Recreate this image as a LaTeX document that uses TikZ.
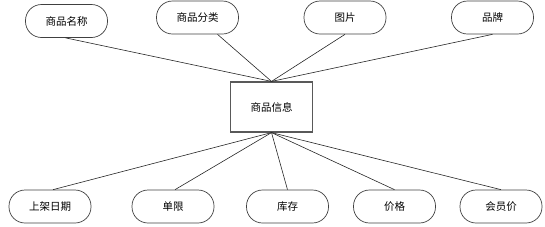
\documentclass[tikz,border=0pt]{standalone}
\usepackage{fontspec}
\newfontfamily\cjk{Noto Sans CJK SC}
\usetikzlibrary{positioning}

\begin{document}
\begin{tikzpicture}[
  x=1pt, y=-1pt,
  attr/.style={draw=black!75, line width=0.7pt, rounded corners=16pt, minimum width=82pt, minimum height=33pt, inner sep=0pt, font=\cjk\fontsize{10.5}{12}\selectfont},
  ent/.style={draw=black!65, line width=1.2pt, minimum width=82pt, minimum height=50pt, inner sep=0pt, font=\cjk\fontsize{10.5}{12}\selectfont},
  link/.style={black!85, line width=0.6pt}
]
\useasboundingbox (0,0) rectangle (545,226);

% entity
\node[ent] (info) at (271.5,107) {商品信息};

% top attributes
\node[attr] (name) at (66.5,21) {商品名称};
\node[attr] (cat) at (197.5,17.5) {商品分类};
\node[attr] (pic) at (345,17.5) {图片};
\node[attr] (brand) at (492.5,17.5) {品牌};

% bottom attributes
\node[attr] (date) at (50,206.5) {上架日期};
\node[attr] (limit) at (173,206.5) {单限};
\node[attr] (stock) at (287.5,206.5) {库存};
\node[attr] (price) at (394.5,206.5) {价格};
\node[attr] (vip) at (501,206.5) {会员价};

% links
\draw[link] ([xshift=-1pt]name.south) -- (info.north);
\draw[link] ([xshift=20pt]cat.south) -- (info.north);
\draw[link] (pic.south) -- (info.north);
\draw[link] (brand.south) -- (info.north);
\draw[link] (info.south) -- ([xshift=3pt]date.north);
\draw[link] (info.south) -- ([xshift=2pt]limit.north);
\draw[link] (info.south) -- (stock.north);
\draw[link] (info.south) -- (price.north);
\draw[link] (info.south) -- (vip.north);
\end{tikzpicture}
\end{document}
